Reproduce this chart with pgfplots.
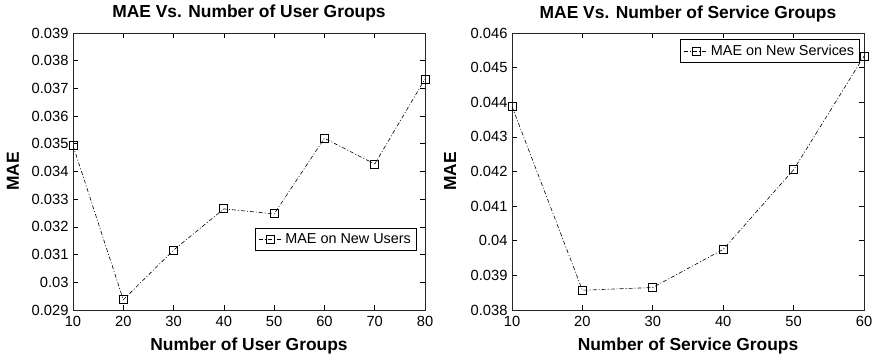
\documentclass[border=0pt]{standalone}
\usepackage{fontspec}
\setmainfont{Liberation Sans}
\usepackage{pgfplots}
\pgfplotsset{compat=1.18}
\begin{document}
\begin{tikzpicture}[x=1pt,y=1pt]
\path[use as bounding box] (0,0) rectangle (874,355);
\pgfplotsset{
  myplot/.style={black, line width=0.6pt, dash pattern=on 4pt off 2pt on 1pt off 2pt,
      mark=square, mark size=4pt, mark options={solid, line width=0.9pt, fill=none}},
  mystyle/.style={
    scale only axis, width=352pt, height=277pt,
    axis line style={line width=0.9pt, black!85},
    tick align=inside, xtick pos=both, ytick pos=both,
    major tick length=5pt,
    every tick/.style={black, line width=0.7pt},
    /pgf/number format/assume math mode=true,
    tick label style={font=\fontsize{14.7}{15}\selectfont},
    xticklabel style={yshift=-3pt},
    yticklabel style={xshift=-1pt},
    scaled y ticks=false,
    title style={font=\bfseries\fontsize{17.4}{18}\selectfont, at={(axis description cs:0.5,1)}, anchor=base, yshift=9pt},
    xlabel style={font=\bfseries\fontsize{17.4}{18}\selectfont, at={(axis description cs:0.5,0)}, anchor=base, yshift=-41pt},
    ylabel style={font=\bfseries\fontsize{17.4}{18}\selectfont, anchor=center},
    legend style={font=\fontsize{14.4}{14}\selectfont, draw=black, line width=0.9pt, inner xsep=3pt, inner ysep=3pt, row sep=0pt,
      nodes={inner sep=2.5pt}},
    legend image code/.code={\draw[mark repeat=2,mark phase=2,##1] plot coordinates {(0pt,0pt) (12pt,0pt) (24pt,0pt)};},
  }
}
\begin{axis}[mystyle,
  at={(73pt,45pt)}, anchor=south west,
  xmin=10, xmax=80, ymin=0.029, ymax=0.039,
  xtick={10,20,30,40,50,60,70,80},
  ytick={0.029,0.030,0.031,0.032,0.033,0.034,0.035,0.036,0.037,0.038,0.039},
  yticklabels={0.029,0.03,0.031,0.032,0.033,0.034,0.035,0.036,0.037,0.038,0.039},
  title={MAE Vs. Number of User Groups},
  xlabel={Number of User Groups},
  ylabel={MAE},
  ylabel style={at={(axis description cs:-0.1705,0.5)}},
  legend style={at={(axis description cs:0.977,0.296)}, anchor=north east},
]
\addplot[myplot] coordinates {(10,0.03494) (20,0.02937) (30,0.03116) (40,0.03265) (50,0.03247) (60,0.03520) (70,0.03427) (80,0.03734)};
\addlegendentry{MAE on New Users}
\end{axis}
\begin{axis}[mystyle,
  at={(512pt,45pt)}, anchor=south west,
  xmin=10, xmax=60, ymin=0.038, ymax=0.046,
  xtick={10,20,30,40,50,60},
  ytick={0.038,0.039,0.040,0.041,0.042,0.043,0.044,0.045,0.046},
  yticklabels={0.038,0.039,0.04,0.041,0.042,0.043,0.044,0.045,0.046},
  title={MAE Vs. Number of Service Groups},
  xlabel={Number of Service Groups},
  ylabel={MAE},
  ylabel style={at={(axis description cs:-0.176,0.5)}},
  legend style={at={(axis description cs:0.989,0.978)}, anchor=north east},
]
\addplot[myplot] coordinates {(10,0.04388) (20,0.03857) (30,0.03865) (40,0.03975) (50,0.04205) (60,0.04533)};
\addlegendentry{MAE on New Services}
\end{axis}
\end{tikzpicture}
\end{document}
